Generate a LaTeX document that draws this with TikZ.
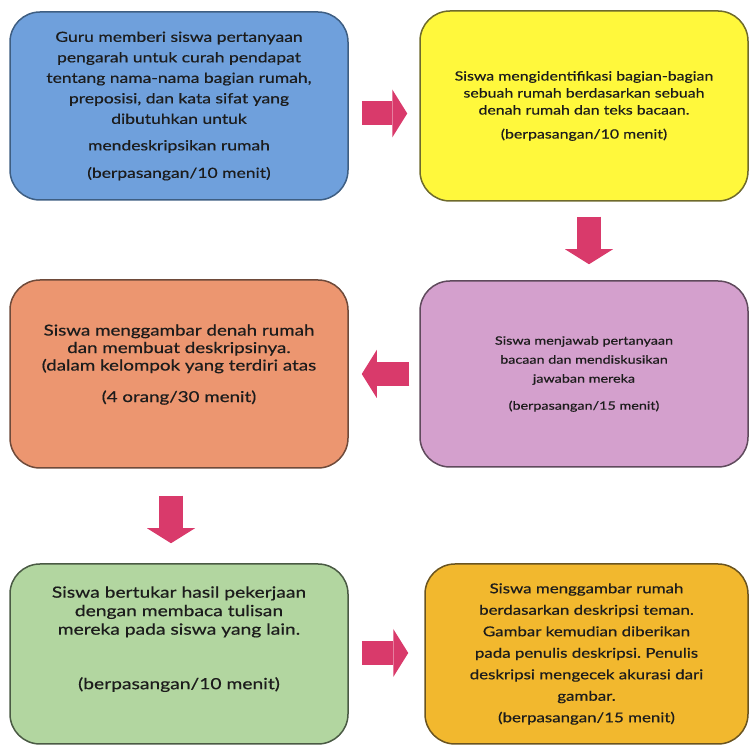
\documentclass[tikz,border=0pt]{standalone}
\usepackage{fontspec}
\setmainfont[FakeStretch=1.25, FakeBold=0.5]{Lato}
\usetikzlibrary{arrows.meta}
\frenchspacing

\definecolor{biru}{HTML}{6FA0DC}
\definecolor{garisbiru}{HTML}{3E5E82}
\definecolor{kuning}{HTML}{FFF83C}
\definecolor{gariskuning}{HTML}{6E6A2C}
\definecolor{jingga}{HTML}{EC9670}
\definecolor{garisjingga}{HTML}{6E4A3A}
\definecolor{ungu}{HTML}{D4A0CD}
\definecolor{garisungu}{HTML}{5F4A5C}
\definecolor{hijau}{HTML}{B2D6A0}
\definecolor{garishijau}{HTML}{4A5A44}
\definecolor{emas}{HTML}{F2B82E}
\definecolor{garisemas}{HTML}{6A5420}
\definecolor{merah}{HTML}{D93A6B}
\definecolor{teks}{HTML}{1C1C1C}

\tikzset{
  kotak/.style={draw, rounded corners=30pt, line width=1.5pt, align=center,
    text=teks, inner sep=0pt},
  panah/.style={line width=24pt, color=merah,
    -{Triangle[width=48pt, length=15pt, line width=0pt]}}
}

\begin{document}
\begin{tikzpicture}[x=1pt, y=1pt, node distance=405pt]
    \path[use as bounding box] (0,0) rectangle (750,749);

    \node[kotak, fill=biru, draw=garisbiru, minimum width=338pt, minimum height=188pt,
      font=\fontsize{14}{20.5}\selectfont] (guru) at (179,643)
      {Guru memberi siswa pertanyaan\\ pengarah untuk curah pendapat\\
       tentang nama-nama bagian rumah,\\ preposisi, dan kata sifat yang\\
       dibutuhkan untuk\\[6pt] mendeskripsikan rumah\\[7pt] (berpasangan/10 menit)};
    \node[kotak, fill=kuning, draw=gariskuning, minimum width=328pt, minimum height=190pt,
      font=\fontsize{12.7}{17}\selectfont, right of=guru] (identifikasi)
      {Siswa mengidentifikasi bagian-bagian\\ sebuah rumah berdasarkan sebuah\\
       denah rumah dan teks bacaan.\\[7pt] (berpasangan/10 menit)};
    \node[kotak, fill=ungu, draw=garisungu, minimum width=328pt, minimum height=186pt,
      font=\fontsize{11.5}{19}\selectfont, below of=identifikasi, yshift=137pt] (jawab)
      {Siswa menjawab pertanyaan\\ bacaan dan mendiskusikan\\
       jawaban mereka\\[8pt] (berpasangan/15 menit)};
    \node[kotak, fill=jingga, draw=garisjingga, minimum width=338pt, minimum height=188pt,
      font=\fontsize{15}{17.5}\selectfont, left of=jawab] (gambar)
      {Siswa menggambar denah rumah\\ dan membuat deskripsinya.\\
       (dalam kelompok yang terdiri atas\\[14pt] (4 orang/30 menit)\hspace*{24pt}\\[4pt]\mbox{}};
    \node[kotak, fill=hijau, draw=garishijau, minimum width=338pt, minimum height=180pt,
      font=\fontsize{15.4}{18.5}\selectfont, below of=gambar, yshift=125pt] (tukar)
      {Siswa bertukar hasil pekerjaan\\ dengan membaca tulisan\\
       mereka pada siswa yang lain.\\[36pt] (berpasangan/10 menit)\\[14pt]\mbox{}};
    \node[kotak, fill=emas, draw=garisemas, minimum width=323pt, minimum height=180pt,
      font=\fontsize{13.5}{21.5}\selectfont, right of=tukar, xshift=2.5pt] (cek)
      {Siswa menggambar rumah\\ berdasarkan deskripsi teman.\\
       Gambar kemudian diberikan\\ pada penulis deskripsi. Penulis\\
       deskripsi mengecek akurasi dari\\ gambar.\\ (berpasangan/15 menit)};

    % panah antar langkah
    \draw[panah, shorten <=13pt, shorten >=12pt]
      ([yshift=-7.5pt]guru.east) -- ([yshift=-7.5pt]identifikasi.west);
    \draw[panah, shorten <=15pt, shorten >=16pt]
      ([xshift=5pt]identifikasi.south) -- ([xshift=5pt]jawab.north);
    \draw[panah, shorten <=10pt, shorten >=13pt] (jawab.west) -- (gambar.east);
    \draw[panah, shorten <=27pt, shorten >=20pt]
      ([xshift=-8pt]gambar.south) -- ([xshift=-8pt]tukar.north);
    \draw[panah, shorten <=13pt, shorten >=16pt]
      ([yshift=1pt]tukar.east) -- ([yshift=1pt]cek.west);
\end{tikzpicture}
\end{document}
